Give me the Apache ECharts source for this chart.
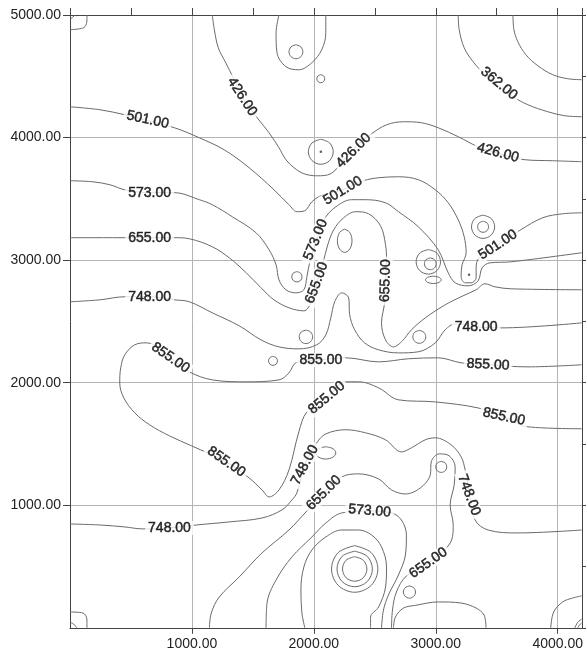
<!DOCTYPE html>
<html>
<head>
<meta charset="utf-8">
<script src="https://cdn.jsdelivr.net/npm/echarts@6/dist/echarts.min.js"></script>
<style>
html,body{margin:0;padding:0;background:#fff}
#main{width:586px;height:653px}
</style>
</head>
<body>
<div id="main"></div>
<script>
// contour lines, [x, y] in map units
var c426 = [[1167,5000],[1184,4880],[1216,4733],[1273,4619],[1347,4472],[1429,4308],[1535,4162],[1633,4039],[1714,3917],[1771,3819],[1837,3754],[1918,3705],[2024,3688],[2139,3705],[2245,3819],[2351,3933],[2473,4031],[2596,4104],[2735,4129],[2882,4121],[3020,4080],[3184,4007],[3347,3925],[3551,3860],[3731,3819],[3959,3811],[4196,3803]];
var c501 = [[0,4251],[245,4227],[449,4186],[637,4137],[857,4080],[1061,3998],[1265,3900],[1469,3754],[1673,3574],[1796,3452],[1861,3395],[1926,3403],[1984,3476],[2057,3525],[2237,3574],[2408,3648],[2531,3672],[2694,3680],[2857,3656],[2996,3574],[3102,3468],[3184,3329],[3233,3191],[3249,3060],[3216,2962],[3208,2864],[3241,2815],[3290,2815],[3331,2856],[3331,2937],[3355,3019],[3510,3125],[3698,3248],[3878,3346],[4041,3378],[4196,3386]];
var c573a = [[0,3648],[188,3639],[327,3615],[449,3574],[653,3550],[857,3550],[1061,3493],[1167,3452],[1331,3354],[1526,3223],[1633,3084],[1690,2962],[1714,2839],[1771,2758],[1853,2733],[1918,2758],[1943,2864],[1967,2986],[2024,3166],[2082,3329],[2180,3435],[2310,3493],[2424,3493],[2588,3468],[2694,3395],[2857,3272],[3020,3084],[3102,2897],[3159,2815],[3265,2790],[3347,2831],[3380,2937],[3445,2978],[3616,2986],[4196,3060]];
var c655a = [[0,3183],[449,3183],[653,3183],[857,3183],[980,3174],[1167,3109],[1306,3019],[1445,2897],[1567,2774],[1673,2676],[1796,2611],[1918,2586],[1975,2651],[2024,2815],[2073,2970],[2114,3125],[2163,3248],[2245,3346],[2343,3395],[2449,3378],[2547,3280],[2588,3125],[2596,3003],[2588,2831],[2580,2651],[2555,2488],[2588,2349],[2653,2292],[2726,2341],[2800,2431],[2914,2529],[3077,2635],[3224,2709],[3331,2758],[3404,2807],[3486,2782],[3616,2766],[4196,2758]];
var c748a = [[0,2660],[245,2676],[449,2701],[653,2701],[857,2676],[980,2660],[1167,2570],[1388,2464],[1567,2349],[1714,2292],[1877,2276],[2024,2309],[2098,2390],[2139,2529],[2171,2660],[2228,2733],[2286,2692],[2294,2554],[2335,2431],[2416,2325],[2531,2268],[2694,2243],[2857,2252],[2996,2325],[3077,2431],[3159,2480],[3331,2456],[3535,2447],[4196,2488]];
var c855 = [[4196,2146],[3755,2129],[3429,2146],[3208,2162],[3020,2203],[2775,2195],[2531,2170],[2261,2203],[2041,2186],[1853,2162],[1796,2080],[1714,2023],[1445,2007],[1167,2023],[980,2088],[824,2203],[629,2325],[531,2309],[449,2227],[416,2121],[408,1999],[441,1876],[531,1754],[653,1656],[816,1566],[996,1485],[1282,1354],[1469,1223],[1575,1125],[1633,1068],[1714,1125],[1796,1288],[1877,1599],[1943,1762],[2106,1876],[2261,2007],[2367,2007],[2531,1958],[2694,1860],[2996,1843],[3347,1794],[3559,1722],[3755,1640],[4196,1624]];
var c748b = [[0,847],[245,839],[449,823],[596,807],[816,815],[1037,839],[1306,864],[1575,896],[1739,962],[1820,1043],[1861,1101],[1926,1329],[2024,1509],[2098,1582],[2261,1616],[2424,1591],[2588,1534],[2718,1435],[2800,1468],[2914,1534],[2996,1550],[3126,1493],[3208,1395],[3241,1288],[3273,1109],[3322,880],[3429,798],[3673,774],[4196,798]];
var c655b = [[1143,0],[1159,121],[1224,251],[1388,415],[1575,611],[1796,798],[1935,945],[2082,1101],[2228,1231],[2367,1256],[2531,1215],[2637,1125],[2751,1092],[2873,1141],[2955,1248],[2963,1354],[3028,1419],[3110,1403],[3159,1313],[3151,1166],[3118,1002],[3143,839],[3118,692],[2939,529],[2759,423],[2677,292],[2645,145],[2637,0]];
var c573b = [[1608,0],[1616,202],[1690,390],[1820,578],[1984,741],[2098,855],[2228,937],[2457,953],[2637,937],[2718,880],[2759,758],[2751,594],[2694,431],[2612,268],[2571,145],[2555,0]];
var c362 = [[3184,5000],[3192,4880],[3233,4733],[3306,4619],[3404,4513],[3510,4423],[3633,4333],[3755,4268],[3918,4211],[4057,4178],[4196,4170]];

// unlabelled lines
var topCorner = [[3633,5000],[3641,4880],[3673,4782],[3739,4676],[3837,4586],[3959,4513],[4082,4480],[4196,4472]];
var topTongue = [[1714,5000],[1690,4855],[1698,4692],[1771,4578],[1877,4553],[1984,4611],[2065,4717],[2098,4855],[2098,5000]];
var bottomU = [[1926,0],[1902,121],[1894,309],[1918,496],[1984,635],[2098,741],[2228,798],[2367,798],[2473,758],[2555,660],[2596,496],[2588,333],[2531,170],[2465,88],[2465,0]];
var bottomU2 = [[2653,0],[2669,88],[2735,161],[2833,183],[3020,211],[3208,202],[3331,161],[3396,104],[3412,0]];
var cornerTL = [[0,4880],[82,4888],[122,4904],[139,4960],[139,5000]];
var cornerTL2 = [[0,4962],[41,5000]];
var cornerBL = [[0,129],[106,121],[139,64],[139,0]];
var cornerBL2 = [[0,47],[30,30],[55,0]];
var cornerBR = [[3943,0],[3967,129],[4041,211],[4122,243],[4196,260]];
var cornerBR2 = [[4140,0],[4165,45],[4196,70]];
var cornerBR3 = [[4165,0],[4180,25],[4196,40]];

// small closed contours
var ring1 = [[1853,4757],[1893,4740],[1910,4700],[1893,4660],[1853,4643],[1813,4660],[1796,4700],[1813,4740],[1853,4757]];
var ring2 = [[2057,4513],[2080,4503],[2090,4480],[2080,4457],[2057,4447],[2034,4457],[2024,4480],[2034,4503],[2057,4513]];
var ring3 = [[2057,3986],[2129,3956],[2159,3884],[2129,3812],[2057,3782],[1985,3812],[1955,3884],[1985,3956],[2057,3986]];
var ring4 = [[3388,3367],[3455,3339],[3483,3272],[3455,3205],[3388,3177],[3321,3205],[3293,3272],[3321,3339],[3388,3367]];
var ring5 = [[3388,3317],[3420,3304],[3433,3272],[3420,3240],[3388,3227],[3356,3240],[3343,3272],[3356,3304],[3388,3317]];
var ring6 = [[2939,3086],[3010,3057],[3039,2986],[3010,2915],[2939,2886],[2868,2915],[2839,2986],[2868,3057],[2939,3086]];
var ring7 = [[2955,3018],[2989,3004],[3003,2970],[2989,2936],[2955,2922],[2921,2936],[2907,2970],[2921,3004],[2955,3018]];
var ring8 = [[2980,2869],[3026,2860],[3045,2839],[3026,2818],[2980,2809],[2934,2818],[2915,2839],[2934,2860],[2980,2869]];
var ring9 = [[2253,3253],[2295,3225],[2313,3158],[2295,3091],[2253,3063],[2211,3091],[2193,3158],[2211,3225],[2253,3253]];
var ring10 = [[1861,2906],[1891,2894],[1903,2864],[1891,2834],[1861,2822],[1831,2834],[1819,2864],[1831,2894],[1861,2906]];
var ring11 = [[1935,2429],[1974,2413],[1990,2374],[1974,2335],[1935,2319],[1896,2335],[1880,2374],[1896,2413],[1935,2429]];
var ring12 = [[1665,2215],[1691,2204],[1702,2178],[1691,2152],[1665,2141],[1639,2152],[1628,2178],[1639,2204],[1665,2215]];
var ring13 = [[2865,2427],[2903,2411],[2918,2374],[2903,2337],[2865,2321],[2827,2337],[2812,2374],[2827,2411],[2865,2427]];
var ring14 = [[2098,1477],[2156,1462],[2180,1427],[2156,1392],[2098,1377],[2040,1392],[2016,1427],[2040,1462],[2098,1477]];
var ring15 = [[3045,1358],[3077,1345],[3090,1313],[3077,1281],[3045,1268],[3013,1281],[3000,1313],[3013,1345],[3045,1358]];
var ring16 = [[2784,342],[2819,327],[2834,292],[2819,257],[2784,242],[2749,257],[2734,292],[2749,327],[2784,342]];
var ring17 = [[2335,580],[2406,551],[2435,480],[2406,409],[2335,380],[2264,409],[2235,480],[2264,551],[2335,580]];
var ring18 = [[2335,625],[2438,583],[2480,480],[2438,377],[2335,335],[2232,377],[2190,480],[2232,583],[2335,625]];
var ring19 = [[2335,670],[2470,614],[2525,480],[2470,346],[2335,290],[2200,346],[2145,480],[2200,614],[2335,670]];

var dots = [[2057,3884],[3273,2880]];

// contour labels
var labelPoints = [[1412,4333],[2326,3893],[3510,3876],[3518,4440],[637,4145],[2237,3566],[3510,3125],[653,3550],[2016,3166],[653,3183],[2024,2815],[2588,2831],[653,2701],[3331,2456],[3429,2146],[2057,2186],[824,2203],[1282,1354],[2106,1876],[3559,1722],[816,815],[1926,1329],[3273,1084],[2082,1101],[2939,529],[2457,953]];
var labelValues = ['426.00','426.00','426.00','362.00','501.00','501.00','501.00','573.00','573.00','655.00','655.00','655.00','748.00','748.00','855.00','855.00','855.00','855.00','855.00','855.00','748.00','748.00','748.00','655.00','655.00','573.00'];
var labelAngles = [-57,45,-15,-40,-12,31,33,0,68,0,70,88,0,0,-3,0,-35,-35,40,-12,0,62,-70,45,35,-5];

var xTicks = [1000,2000,3000,4000];
var yTicks = [1000,2000,3000,4000,5000];

var lines = [c426,c501,c573a,c655a,c748a,c855,c748b,c655b,c573b,c362,
	topCorner,topTongue,bottomU,bottomU2,cornerTL,cornerTL2,cornerBL,cornerBL2,cornerBR,cornerBR2,cornerBR3,
	ring1,ring2,ring3,ring4,ring5,ring6,ring7,ring8,ring9,ring10,ring11,ring12,ring13,ring14,ring15,ring16,ring17,ring18,ring19];

var series = [];
for (var i = 0; i < lines.length; i++) {
	series.push({
		type: 'line',
		data: lines[i],
		smooth: 0.35,
		symbol: 'none',
		silent: true,
		z: 2,
		lineStyle: { color: '#6a6a6a', width: 1 }
	});
}
series.push({
	type: 'scatter',
	data: dots,
	symbolSize: 2.5,
	itemStyle: { color: '#333' },
	z: 3
});
var labelData = [];
for (var j = 0; j < labelPoints.length; j++) {
	labelData.push({
		value: labelPoints[j],
		label: { formatter: labelValues[j], rotate: labelAngles[j] }
	});
}
series.push({
	type: 'scatter',
	data: labelData,
	symbolSize: 1,
	itemStyle: { color: 'rgba(0,0,0,0)' },
	z: 5,
	label: {
		show: true,
		position: 'inside',
		align: 'center',
		verticalAlign: 'middle',
		color: '#000',
		fontSize: 14,
		fontFamily: 'Liberation Sans',
		textBorderColor: '#000',
		textBorderWidth: 0.5,
		backgroundColor: '#fff',
		padding: [0, 3]
	}
});

function fmt(v) {
	return v.toFixed(2);
}

var chart = echarts.init(document.getElementById('main'));
chart.setOption({
	animation: false,
	backgroundColor: '#fff',
	grid: { left: 70, top: 15, width: 514.5, height: 612.8 },
	xAxis: [{
		type: 'value', min: 0, max: 4200, interval: 1000, position: 'bottom',
		axisLine: { show: true, onZero: false, lineStyle: { color: '#444', width: 1 } },
		axisTick: { show: true, length: 6, customValues: xTicks, lineStyle: { color: '#444' } },
		axisLabel: { formatter: fmt, customValues: xTicks, fontSize: 14, color: '#222', margin: 9, fontFamily: 'Liberation Sans' },
		splitLine: { show: true, lineStyle: { color: '#b4b4b4', width: 1 } }
	}, {
		type: 'value', min: 0, max: 4200, interval: 500, position: 'top',
		axisLine: { show: true, onZero: false, lineStyle: { color: '#444', width: 1 } },
		axisTick: { show: true, length: 7, lineStyle: { color: '#444' } },
		axisLabel: { show: false },
		splitLine: { show: false }
	}],
	yAxis: [{
		type: 'value', min: 0, max: 5000, interval: 1000, position: 'left',
		axisLine: { show: true, onZero: false, lineStyle: { color: '#444', width: 1 } },
		axisTick: { show: true, length: 7, customValues: yTicks, lineStyle: { color: '#444' } },
		axisLabel: { formatter: fmt, customValues: yTicks, fontSize: 14, color: '#222', margin: 9, fontFamily: 'Liberation Sans' },
		splitLine: { show: true, lineStyle: { color: '#b4b4b4', width: 1 } }
	}, {
		type: 'value', min: 0, max: 5000, interval: 500, position: 'right',
		axisLine: { show: true, onZero: false, lineStyle: { color: '#444', width: 1 } },
		axisTick: { show: true, length: 6, lineStyle: { color: '#444' } },
		axisLabel: { show: false },
		splitLine: { show: false }
	}],
	series: series
});
</script>
</body>
</html>
